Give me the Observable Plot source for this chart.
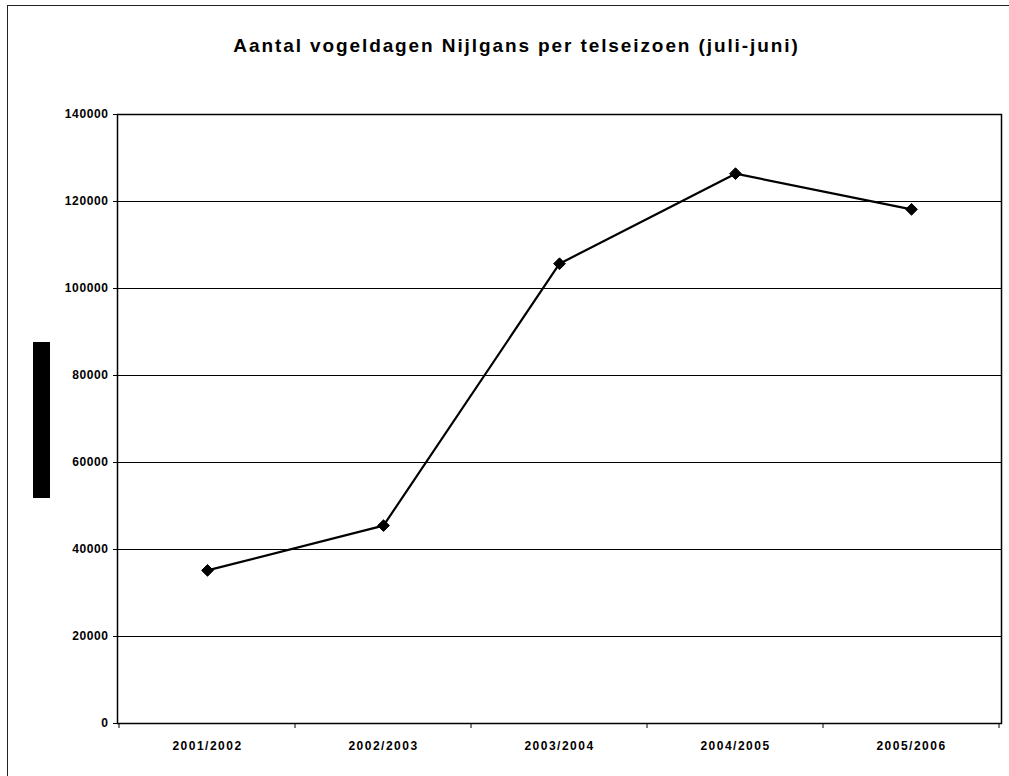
<!DOCTYPE html>
<html>
<head>
<meta charset="utf-8">
<script src="https://cdn.jsdelivr.net/npm/d3@7"></script>
<script src="https://cdn.jsdelivr.net/npm/@observablehq/plot@0.6"></script>
<style>
  html, body { margin: 0; padding: 0; background: #fff; }
  #wrap { position: relative; width: 1009px; height: 776px; overflow: hidden; font-family: "Liberation Sans", Arial, sans-serif; }
  #frame { position: absolute; left: 7px; top: 5px; width: 1010px; height: 800px; border-left: 1.5px solid #222; border-top: 1.5px solid #222; box-sizing: border-box; pointer-events: none; }
  #title { height: 90px; box-sizing: border-box; padding-top: 35px; text-align: center; font-size: 19px; font-weight: bold; line-height: 22px; letter-spacing: 1.9px; color: #000; padding-left: 24px; }
  #ylab { position: absolute; left: 33px; top: 342px; width: 17px; height: 156px; background: #000; color: #000; overflow: hidden; }
  #ylab span { display: block; transform: rotate(-90deg) translate(-120px, 0); transform-origin: 0 0; white-space: nowrap; font-size: 12px; width: 156px; }
  #chart svg { display: block; }
  #chart svg g[aria-label="x-axis tick label"] text { letter-spacing: 1.5px; }
  #chart svg g[aria-label="y-axis tick label"] text { letter-spacing: 0.6px; }
</style>
</head>
<body>
<div id="wrap">
  <div id="frame"></div>
  <div id="title">Aantal vogeldagen Nijlgans per telseizoen (juli-juni)</div>
  <div id="ylab"><span>Aantal vogeldagen</span></div>
  <div id="chart"></div>
</div>
<script>
const seasons = ["2001/2002", "2002/2003", "2003/2004", "2004/2005", "2005/2006"];
const birdDays = [35200, 45500, 105700, 126400, 118200];
const yTicks = [0, 20000, 40000, 60000, 80000, 100000, 120000, 140000];

const data = seasons.map((s, i) => ({season: s, value: birdDays[i]}));

const W = 1009, H = 686;
const mL = 117, mR = 8, mT = 24, mB = 53;

const chart = Plot.plot({
  width: W,
  height: H,
  marginLeft: mL,
  marginRight: mR,
  marginTop: mT,
  marginBottom: mB,
  style: {fontFamily: "'Liberation Sans', Arial, sans-serif", fontSize: "12px", fontWeight: "bold", color: "#000", background: "#fff"},
  x: {type: "band", domain: seasons, padding: 0, label: null},
  y: {domain: [0, 140000], ticks: yTicks, label: null},
  marks: [
    Plot.ruleY(yTicks, {stroke: "#000", strokeWidth: 1.2}),
    Plot.frame({stroke: "#000", strokeWidth: 1.5}),
    Plot.axisY({ticks: yTicks, tickSize: 4, tickPadding: 5, tickFormat: d => String(d), stroke: "#000", fontWeight: "bold", fontSize: 12}),
    Plot.axisX({tickSize: 0, tickPadding: 18, fontWeight: "bold", fontSize: 12}),
    Plot.lineY(data, {x: "season", y: "value", stroke: "#000", strokeWidth: 2.2}),
    Plot.dot(data, {x: "season", y: "value", symbol: "diamond2", r: 5.3, fill: "#000", stroke: "#000", strokeWidth: 1})
  ]
});
document.getElementById("chart").appendChild(chart);

// small tick marks below the category axis at band boundaries
const svg = d3.select(chart);
const xs = chart.scale("x");
const ys = chart.scale("y");
const y0 = ys.apply(0);
const bounds = seasons.map(s => xs.apply(s)).concat([xs.apply(seasons[seasons.length - 1]) + xs.bandwidth]);
svg.append("g").selectAll("line").data(bounds).join("line")
  .attr("x1", d => d).attr("x2", d => d)
  .attr("y1", y0).attr("y2", y0 + 5)
  .attr("stroke", "#000").attr("stroke-width", 1);
</script>
</body>
</html>
